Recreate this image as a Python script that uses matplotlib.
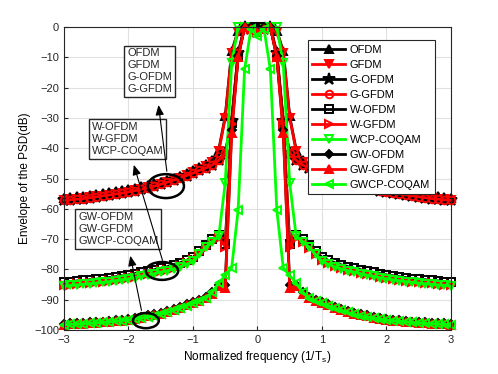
import numpy as np
import matplotlib
matplotlib.use('Agg')
import matplotlib.pyplot as plt
from matplotlib.patches import Ellipse

plt.rcParams['font.family'] = ['Liberation Sans', 'DejaVu Sans']

# normalized frequency, one side (0 .. 3, step 0.1); the spectra are symmetric
freq_half = np.round(np.arange(0, 3.01, 0.1), 2)

# envelope of the PSD (dB) for f = 0 .. 3
ofdm_half = [0, 0, 0, -1.2, -8, -29.5, -40.5, -43.8, -45.3, -46.3, -47.3, -48.2, -49.0, -49.7, -50.4, -51.0,
             -51.6, -52.1, -52.6, -53.1, -53.5, -53.9, -54.2, -54.5, -54.8, -55.1, -55.4, -55.7, -55.9, -56.1, -56.3]
gfdm_half = [-1.5, -0.5, 0, -1.5, -8.5, -30, -41, -44.5, -46, -47, -48, -48.9, -49.7, -50.4, -51.1, -51.8,
             -52.4, -52.9, -53.4, -53.9, -54.3, -54.7, -55.0, -55.3, -55.6, -55.9, -56.2, -56.5, -56.7, -56.9, -57.1]
g_half = [-1.5, -0.5, 0, -8.5, -31, -41.5, -44, -45.5, -46.5, -47.3, -48.2, -49.0, -49.8, -50.5, -51.2, -51.9,
          -52.5, -53.0, -53.5, -54.0, -54.4, -54.8, -55.1, -55.4, -55.7, -56.0, -56.3, -56.6, -56.8, -57.0, -57.2]
w_ofdm_half = [0, 0, 0, -9.5, -31.5, -71.5, -68.5, -70, -71.8, -74, -76, -77, -77.8, -78.5, -79.1, -79.6,
               -80.1, -80.6, -81.0, -81.4, -81.8, -82.1, -82.4, -82.7, -83.0, -83.2, -83.4, -83.6, -83.8, -84.0, -84.2]
w_gfdm_half = [-1.5, -0.5, 0, -10, -32, -72.5, -69.5, -71, -72.8, -75, -77, -78, -78.8, -79.5, -80.1, -80.6,
               -81.1, -81.6, -82.0, -82.4, -82.8, -83.1, -83.4, -83.7, -84.0, -84.2, -84.4, -84.6, -84.8, -85.0, -85.2]
wcp_half = [-1, -0.5, 0, 0, -12, -51.5, -69, -70.8, -72.6, -75, -77.3, -78.3, -79.1, -79.8, -80.4, -80.9,
            -81.4, -81.9, -82.3, -82.7, -83.1, -83.4, -83.7, -84.0, -84.3, -84.5, -84.7, -84.9, -85.1, -85.3, -85.5]
gw_ofdm_half = [0, 0, 0, -9.5, -34, -85, -85, -87.5, -89, -90, -90.7, -91.5, -92.3, -93.0, -93.7, -94.3,
                -94.8, -95.2, -95.6, -96.0, -96.3, -96.6, -96.8, -97.0, -97.2, -97.3, -97.5, -97.6, -97.7, -97.8, -98.0]
gw_gfdm_half = [-1.5, -0.5, 0, -10, -35, -86, -85.5, -88, -89.5, -90.3, -91, -91.8, -92.6, -93.3, -94.0, -94.6,
                -95.1, -95.5, -95.9, -96.3, -96.6, -96.9, -97.1, -97.3, -97.5, -97.6, -97.8, -97.9, -98.0, -98.1, -98.3]
gwcp_half = [-3, -0.5, -14, -60.4, -79.5, -82, -84.5, -87.5, -89.5, -90.5, -91.2, -92, -92.8, -93.5, -94.2, -94.8,
             -95.3, -95.7, -96.1, -96.4, -96.7, -96.9, -97.1, -97.3, -97.5, -97.6, -97.8, -97.9, -98.0, -98.1, -98.3]

labels = ['OFDM', 'GFDM', 'G-OFDM', 'G-GFDM', 'W-OFDM', 'W-GFDM', 'WCP-COQAM',
          'GW-OFDM', 'GW-GFDM', 'GWCP-COQAM']
series = [ofdm_half, gfdm_half, g_half, g_half, w_ofdm_half, w_gfdm_half, wcp_half,
          gw_ofdm_half, gw_gfdm_half, gwcp_half]

# (color, marker, filled, markersize)
styles = [('k', '^', True, 5.5), ('r', 'v', True, 5.5), ('k', '*', True, 9), ('r', 'o', False, 5.5),
          ('k', 's', False, 5.5), ('r', '>', False, 5.5), ('#00ff00', 'v', False, 6),
          ('k', 'D', True, 4.5), ('r', '^', True, 5.5), ('#00ff00', '<', False, 6)]


def mirror(half):
    half = np.asarray(half, dtype=float)
    return np.concatenate([half[:0:-1], half])


freq = np.concatenate([-freq_half[:0:-1], freq_half])

fig = plt.figure(figsize=(4.98, 3.74), dpi=100)
ax = fig.add_axes([0.1285, 0.1176, 0.777, 0.810])

for lab, half, (c, m, filled, ms) in zip(labels, series, styles):
    ax.plot(freq, mirror(half), color=c, marker=m, markersize=ms, lw=2,
            markerfacecolor=c if filled else 'none', markeredgecolor=c,
            markeredgewidth=1.4, label=lab, clip_on=False)

ax.set_xlim(-3, 3)
ax.set_ylim(-100, 0)
ax.set_xticks(np.arange(-3, 4, 1))
ax.set_yticks(np.arange(-100, 1, 10))
ax.grid(True, color='#e0e0e0', lw=0.8)
ax.set_axisbelow(True)
ax.tick_params(direction='in', labelsize=8, length=3, colors='#262626')
for s in ax.spines.values():
    s.set_color('#262626')
    s.set_linewidth(0.8)
ax.set_xlabel('Normalized frequency (1/T$_\\mathregular{s}$)', fontsize=8.5, labelpad=3)
ax.set_ylabel('Envelope of the PSD(dB)', fontsize=8.5, labelpad=2)

leg = ax.legend(loc='upper right', bbox_to_anchor=(0.972, 0.975), fontsize=8, handlelength=3.0,
                numpoints=1, borderpad=0.4, labelspacing=0.45, handletextpad=0.4,
                fancybox=False, framealpha=1, edgecolor='#262626')
leg.get_frame().set_linewidth(0.8)

box = dict(boxstyle='square,pad=0.25', fc='white', ec='#262626', lw=1)
ax.text(-2.02, -7.0, 'OFDM\nGFDM\nG-OFDM\nG-GFDM', fontsize=8, va='top', ha='left',
        bbox=box, linespacing=1.25, color='#262626', zorder=5)
ax.text(-2.57, -31.4, 'W-OFDM\nW-GFDM\nWCP-COQAM', fontsize=8, va='top', ha='left',
        bbox=box, linespacing=1.25, color='#262626', zorder=5)
ax.text(-2.78, -61.1, 'GW-OFDM\nGW-GFDM\nGWCP-COQAM', fontsize=8, va='top', ha='left',
        bbox=box, linespacing=1.25, color='#262626', zorder=5)

arrow = dict(arrowstyle='-|>,head_length=0.6,head_width=0.25', color='k', lw=0.8)
ax.annotate('', xy=(-1.54, -24.8), xytext=(-1.40, -48.5), arrowprops=arrow, zorder=6)
ax.annotate('', xy=(-1.93, -44.6), xytext=(-1.46, -77.9), arrowprops=arrow, zorder=6)
ax.annotate('', xy=(-1.98, -74.6), xytext=(-1.79, -94.4), arrowprops=arrow, zorder=6)

for (cx, cy, w, h) in [(-1.42, -52.5, 0.56, 7.9), (-1.48, -80.5, 0.50, 5.9), (-1.73, -96.9, 0.40, 5.0)]:
    ax.add_patch(Ellipse((cx, cy), w, h, fill=False, ec='k', lw=1.8, zorder=7))

fig.savefig('out.png', dpi=100)
